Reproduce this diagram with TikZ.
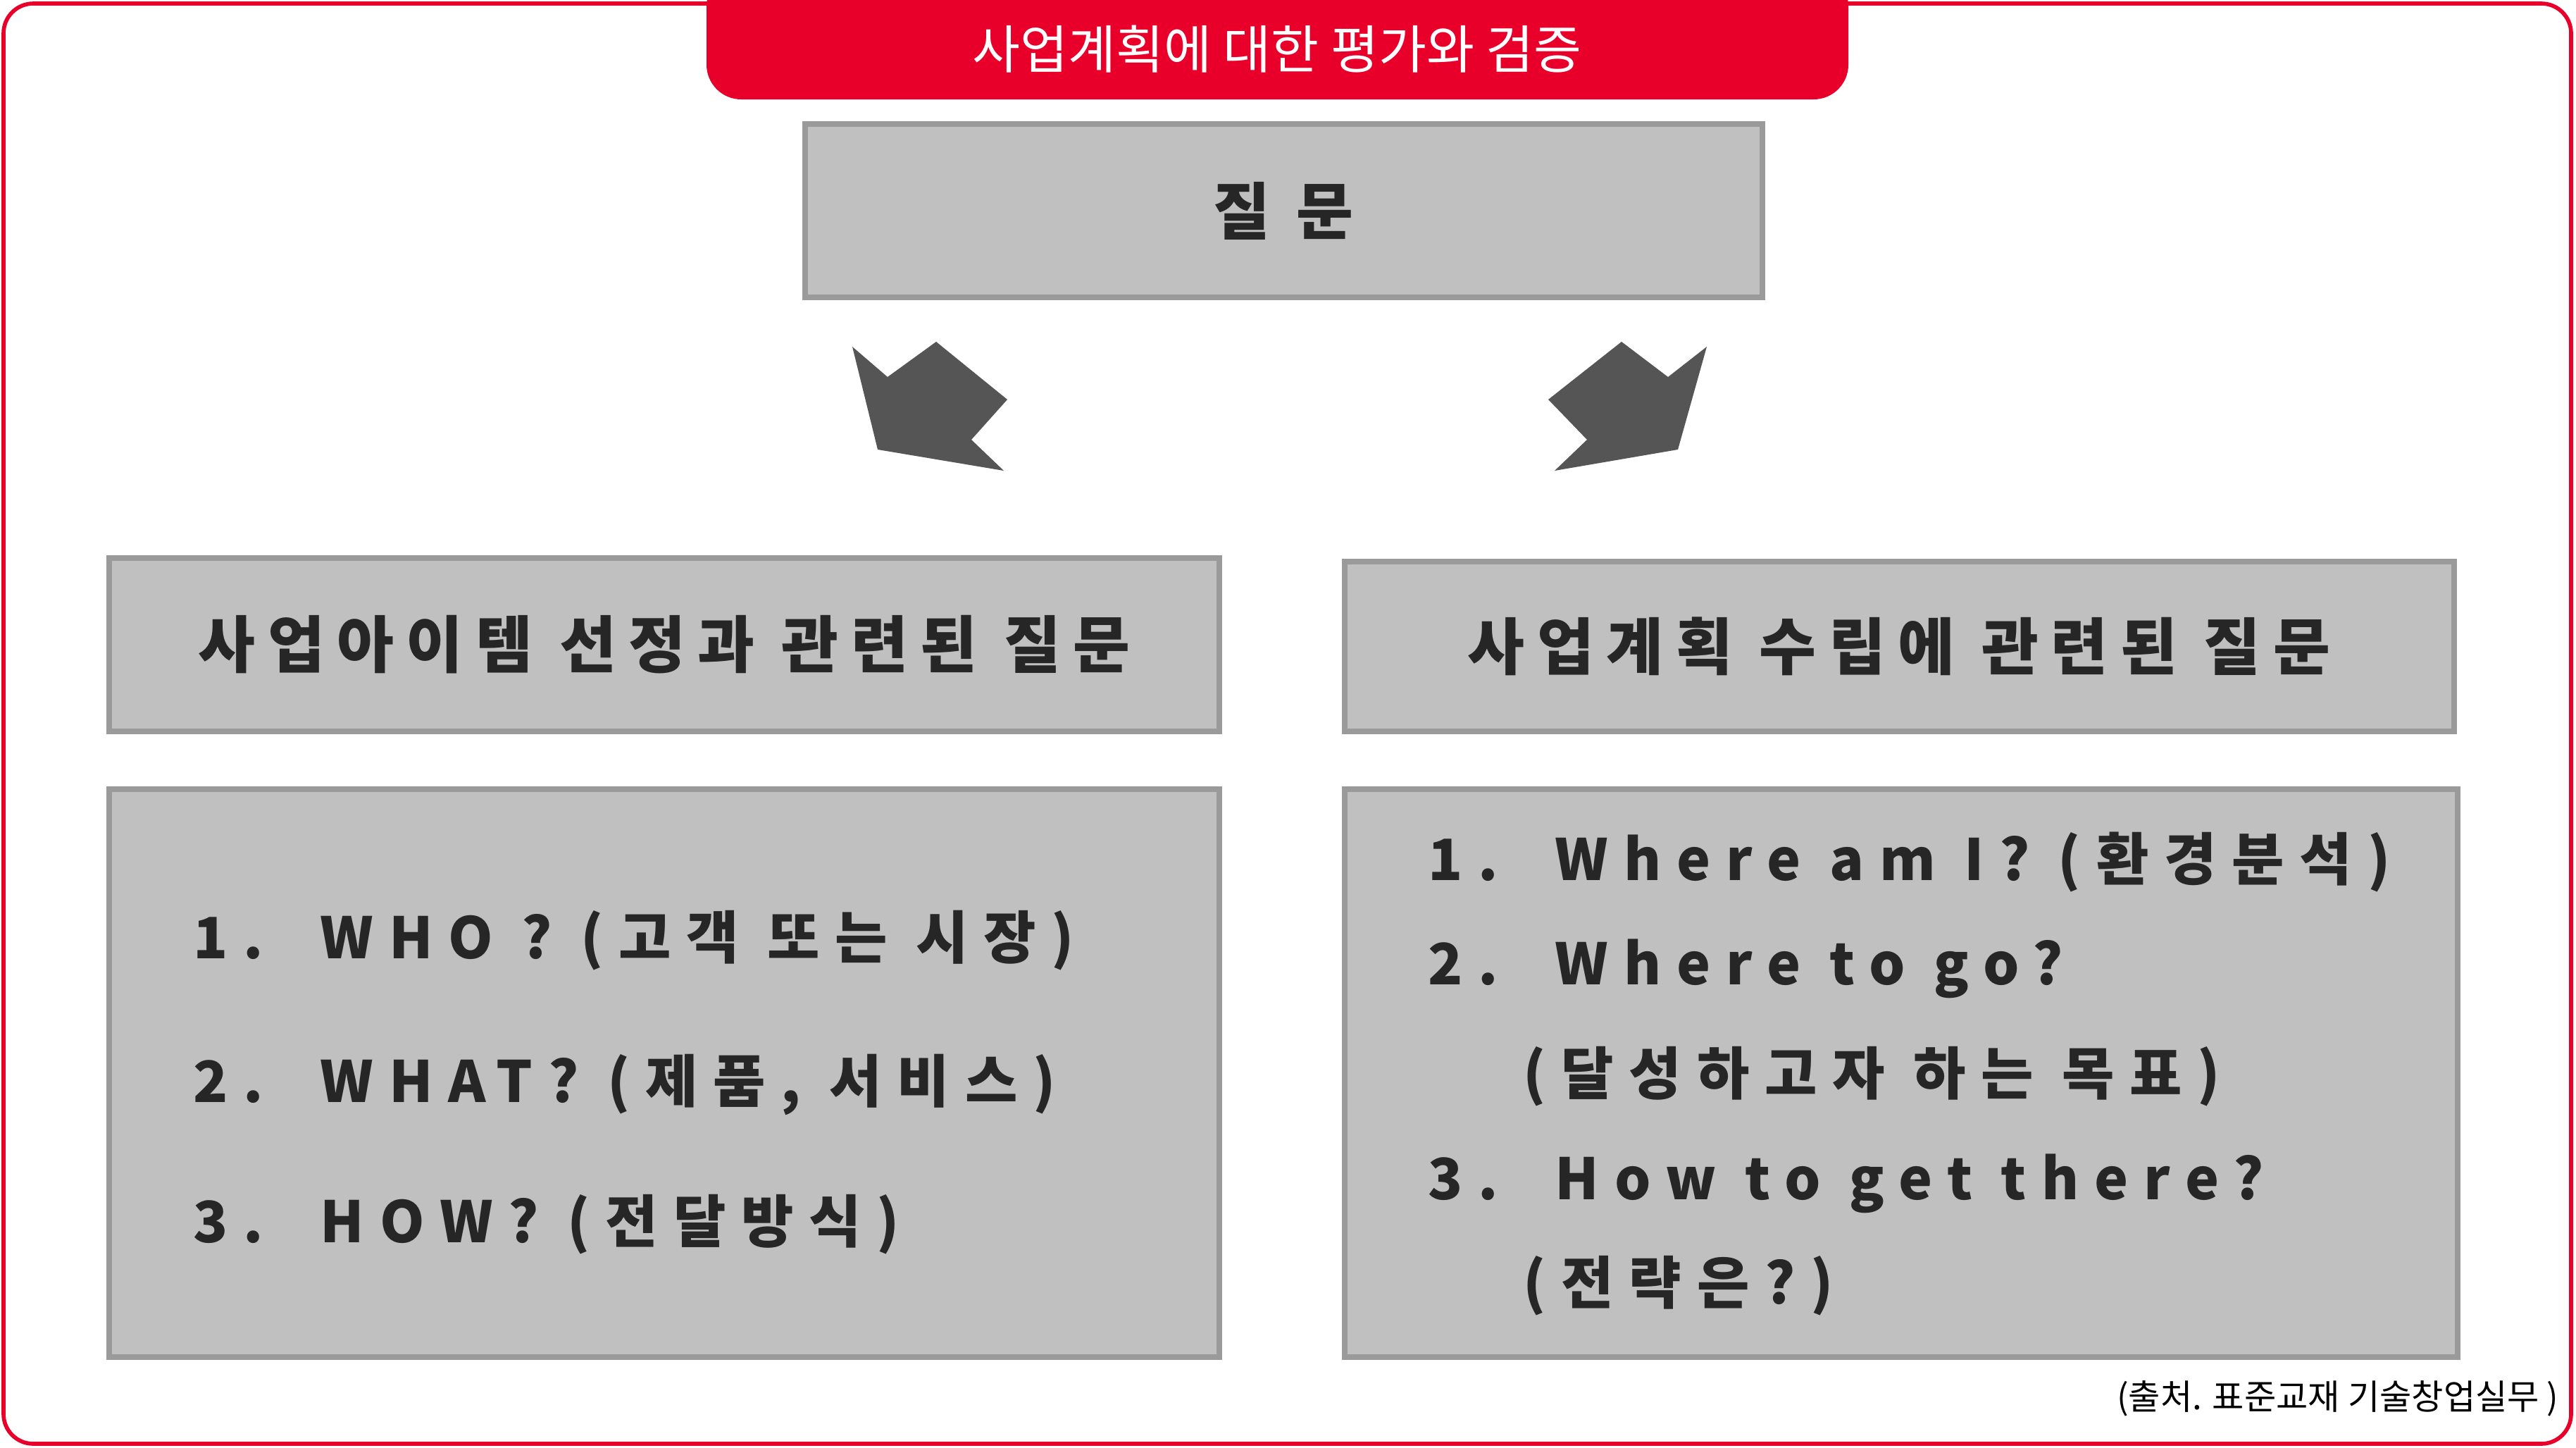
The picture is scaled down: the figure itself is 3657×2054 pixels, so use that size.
\documentclass[tikz,border=0pt]{standalone}
\usepackage{fontspec}
\setmainfont{Noto Sans CJK KR}
\newfontfamily\headfont[LetterSpace=20]{Noto Sans CJK KR}
\newfontfamily\itemfont[LetterSpace=27]{Noto Sans CJK KR}
\usetikzlibrary{positioning}

\definecolor{tabred}{HTML}{E8002A}
\definecolor{boxgray}{HTML}{C0C0C0}
\definecolor{edgegray}{HTML}{9A9A9A}
\definecolor{arrowgray}{HTML}{555555}

\begin{document}
\begin{tikzpicture}[x=0.01cm,y=-0.01cm,
    box/.style={draw=edgegray, fill=boxgray, line width=2.2pt},
    head/.style={font=\headfont\fontsize{25}{30}\selectfont\bfseries, text=black!85},
    item/.style={font=\itemfont\fontsize{23}{28}\selectfont\bfseries, text=black!85, anchor=west}]
  \useasboundingbox (0,0) rectangle (3657,2054);
  % frame and title tab
  \draw[tabred, line width=1.6pt, rounded corners=12pt] (5,5) rectangle (3650,2049);
  \fill[tabred, rounded corners=14pt] (1003,-40) rectangle (2624,141);
  \node[text=white, font=\fontsize{21}{25}\selectfont] (title) at (1813,70) {사업계획에 대한 평가와 검증};

  % top box
  \draw[box] (1143,176) rectangle (2502,422);
  \node[head] (q) at (1822,299) {질 문};

  % arrows
  \fill[arrowgray] (1210,492) -- (1260,535) -- (1329,485) -- (1430,567) -- (1379,624) -- (1425,668) -- (1246,638) -- cycle;
  \fill[arrowgray] (2423,492) -- (2368,535) -- (2302,485) -- (2198,567) -- (2253,624) -- (2207,668) -- (2382,638) -- cycle;

  % headers
  \draw[box] (155,792) rectangle (1731,1038);
  \node[head] (lhead) at (943,915) {사업아이템 선정과 관련된 질문};
  \draw[box] (1909,797) rectangle (3484,1038);
  \node[head] (rhead) at (2696,917) {사업계획 수립에 관련된 질문};

  % bodies
  \draw[box] (155,1120) rectangle (1731,1926);
  \node[item] (l1) at (262,1335) {1.\ \ WHO ? (고객 또는 시장)};
  \node[item] (l2) at (262,1539) {2.\ \ WHAT? (제품, 서비스)};
  \node[item] (l3) at (262,1738) {3.\ \ HOW? (전달방식)};

  \draw[box] (1909,1120) rectangle (3489,1926);
  \node[item] (r1) at (2015,1223) {1.\ \ Where am I? (환경분석)};
  \node[item] (r2) at (2015,1375) {2.\ \ Where to go?};
  \node[item] (r2b) at (2150,1528) {(달성하고자 하는 목표)};
  \node[item] (r3) at (2015,1680) {3.\ \ How to get there?};
  \node[item] (r3b) at (2150,1825) {(전략은?)};

  % source
  \node[anchor=east, font=\fontsize{14}{17}\selectfont] (src) at (3645,1985) {(출처. 표준교재 기술창업실무 )};
\end{tikzpicture}
\end{document}
